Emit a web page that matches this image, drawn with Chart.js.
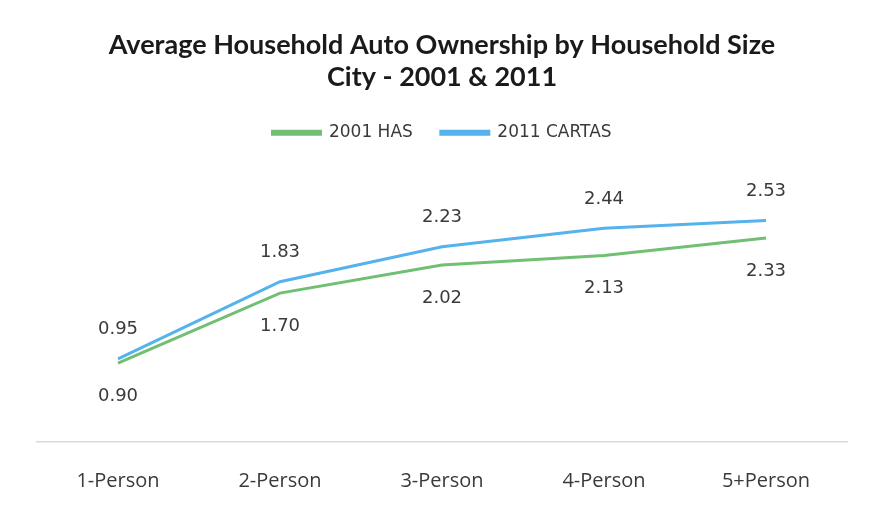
<!DOCTYPE html>
<html>
<head>
<meta charset="utf-8">
<script src="https://cdn.jsdelivr.net/npm/chart.js@4.4.0/dist/chart.umd.min.js"></script>
<style>
  html, body { margin: 0; padding: 0; background: #ffffff; }
  #wrap { width: 871px; height: 517px; }
</style>
</head>
<body>
<div id="wrap"><canvas id="autoChart"></canvas></div>
<script>
const categories = ['1-Person', '2-Person', '3-Person', '4-Person', '5+Person'];
const has2001 = [0.90, 1.70, 2.02, 2.13, 2.33];
const cartas2011 = [0.95, 1.83, 2.23, 2.44, 2.53];

const green = '#70bf72';
const blue = '#55b2ec';

// draws the value labels: 2011 above the line, 2001 below
const valueLabels = {
    id: 'valueLabels',
    afterDatasetsDraw(chart) {
        const ctx = chart.ctx;
        ctx.save();
        ctx.font = '18px "DejaVu Sans", sans-serif';
        ctx.fillStyle = '#3a3a3a';
        ctx.textAlign = 'center';
        ctx.textBaseline = 'middle';
        chart.data.datasets.forEach((ds, i) => {
            const meta = chart.getDatasetMeta(i);
            meta.data.forEach((pt, j) => {
                const off = i === 1 ? -29 : 33;
                ctx.fillText(ds.data[j].toFixed(2), pt.x, pt.y + off);
            });
        });
        ctx.restore();
    }
};

// extra space under the legend
const legendGap = {
    id: 'legendGap',
    beforeInit(chart) {
        const fit = chart.legend.fit;
        chart.legend.fit = function () {
            fit.bind(chart.legend)();
            this.height += 28;
        };
    }
};

const grafica = document.getElementById('autoChart');

const myChart = new Chart(grafica, {
    type: 'line',
    data: {
        labels: categories,
        datasets: [{
            label: '2001 HAS',
            data: has2001,
            borderColor: green,
            backgroundColor: green,
            borderWidth: 3,
            pointRadius: 0,
            tension: 0
        }, {
            label: '2011 CARTAS',
            data: cartas2011,
            borderColor: blue,
            backgroundColor: blue,
            borderWidth: 3,
            pointRadius: 0,
            tension: 0
        }]
    },
    options: {
        responsive: true,
        maintainAspectRatio: false,
        animation: false,
        layout: {
            padding: { left: 37, right: 24, top: 29, bottom: -3 }
        },
        plugins: {
            title: {
                display: true,
                text: ['Average Household Auto Ownership by Household Size', 'City - 2001 & 2011'],
                color: '#1a1a1a',
                font: { family: 'Lato', size: 27, weight: 'bold', lineHeight: 1.19 },
                padding: { top: 0, bottom: 3 }
            },
            legend: {
                display: true,
                position: 'top',
                labels: {
                    color: '#3a3a3a',
                    font: { family: '"DejaVu Sans", sans-serif', size: 17 },
                    boxWidth: 48,
                    boxHeight: 3,
                    padding: 28
                }
            },
            tooltip: { enabled: false }
        },
        scales: {
            x: {
                offset: true,
                grid: { display: false, drawTicks: false },
                border: { display: true, color: '#d9d9d9', width: 1.5 },
                ticks: {
                    color: '#3a3a3a',
                    font: { family: '"Open Sans"', size: 20 },
                    padding: 27
                }
            },
            y: {
                display: false,
                min: 0,
                max: 3
            }
        }
    },
    plugins: [valueLabels, legendGap]
});
</script>
</body>
</html>
